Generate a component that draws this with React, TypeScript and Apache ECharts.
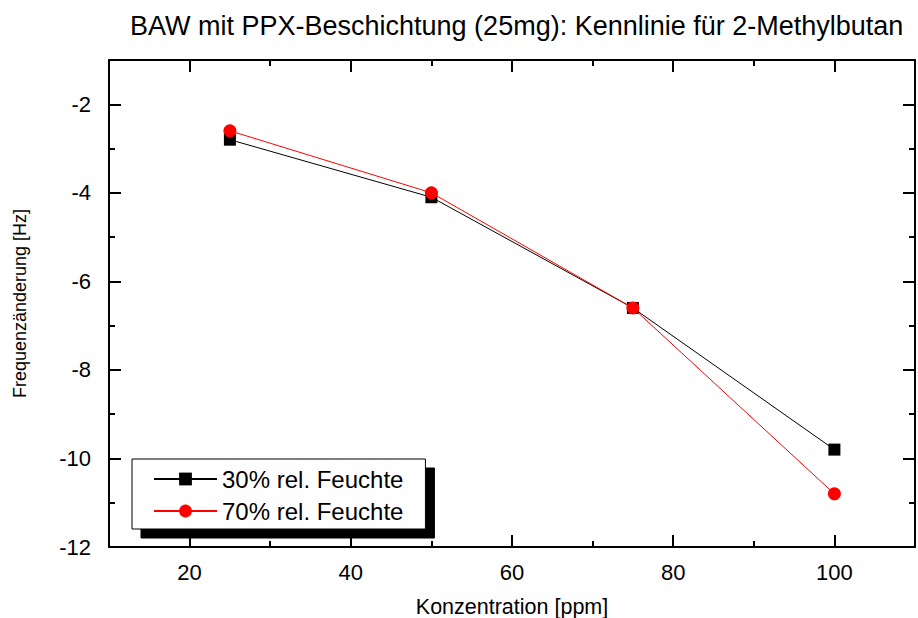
import React, { useEffect, useRef } from "react";
import * as echarts from "echarts";

const titleText = "BAW mit PPX-Beschichtung (25mg): Kennlinie für 2-Methylbutan";
const xName = "Konzentration [ppm]";
const yName = "Frequenzänderung [Hz]";
const concentrations = [25, 50, 75, 100];
const seriesNames = ["30% rel. Feuchte", "70% rel. Feuchte"];
const values30 = [-2.8, -4.1, -6.6, -9.8];
const values70 = [-2.6, -4.0, -6.6, -10.8];
const xMajor = [20, 40, 60, 80, 100];
const xMinor = [30, 50, 70, 90];
const yMajor = [-12, -10, -8, -6, -4, -2];
const yMinor = [-11, -9, -7, -5, -3];

const FONT = "'Liberation Sans', Arial, sans-serif";

export default function App() {
  const ref = useRef<HTMLDivElement>(null);
  useEffect(() => {
    document.body.style.margin = "0";
    if (!ref.current) return;
    const chart = echarts.init(ref.current, undefined, { renderer: "svg" });
    const lineC = { color: "#000", width: 2 };
    const mkX = (pos: string, ticks: number[], len: number, main: boolean) => ({
      type: "value",
      position: pos,
      min: 10,
      max: 110,
      axisLine: { show: main, lineStyle: lineC },
      axisTick: { show: true, inside: true, length: len, customValues: ticks, lineStyle: lineC },
      axisLabel: main && pos === "bottom"
        ? { show: true, customValues: xMajor, fontSize: 22, color: "#000", fontFamily: FONT, margin: 14 }
        : { show: false },
      splitLine: { show: false },
      name: main && pos === "bottom" ? xName : "",
      nameLocation: "middle",
      nameGap: 49,
      nameTextStyle: { fontSize: 21.5, color: "#000", fontFamily: FONT },
    });
    const mkY = (pos: string, ticks: number[], len: number, main: boolean) => ({
      type: "value",
      position: pos,
      min: -12,
      max: -1,
      axisLine: { show: main, lineStyle: lineC },
      axisTick: { show: true, inside: true, length: len, customValues: ticks, lineStyle: lineC },
      axisLabel: main && pos === "left"
        ? { show: true, customValues: yMajor, fontSize: 22, color: "#000", fontFamily: FONT, margin: 18 }
        : { show: false },
      splitLine: { show: false },
      name: main && pos === "left" ? yName : "",
      nameLocation: "middle",
      nameRotate: 90,
      nameGap: 80,
      nameTextStyle: { fontSize: 18, color: "#000", fontFamily: FONT },
    });
    chart.setOption({
      animation: false,
      backgroundColor: "#fff",
      title: {
        text: titleText,
        left: 125,
        top: 7,
        textStyle: { fontSize: 27, fontWeight: "normal", color: "#000", fontFamily: FONT },
      },
      grid: { left: 109, right: 3, top: 60, bottom: 71, containLabel: false, outerBoundsMode: "none" },
      legend: {
        orient: "vertical",
        left: 132,
        top: 459,
        padding: [8, 22, 6, 21],
        itemGap: 8,
        itemWidth: 63,
        itemHeight: 16,
        backgroundColor: "#fff",
        borderColor: "#000",
        borderWidth: 1,
        shadowColor: "#000",
        shadowBlur: 0,
        shadowOffsetX: 9,
        shadowOffsetY: 9,
        textStyle: { fontSize: 24, color: "#000", fontFamily: FONT, lineHeight: 24 },
        data: seriesNames,
      },
      xAxis: [
        mkX("bottom", xMajor, 12, true),
        mkX("bottom", xMinor, 6, false),
        mkX("top", xMajor, 12, true),
        mkX("top", xMinor, 6, false),
      ],
      yAxis: [
        mkY("left", yMajor, 12, true),
        mkY("left", yMinor, 6, false),
        mkY("right", yMajor, 12, true),
        mkY("right", yMinor, 6, false),
      ],
      series: [
        {
          name: seriesNames[0],
          type: "line",
          xAxisIndex: 0,
          yAxisIndex: 0,
          data: concentrations.map((c, i) => [c, values30[i]]),
          symbol: "rect",
          symbolSize: 12,
          lineStyle: { color: "#000", width: 1 },
          itemStyle: { color: "#000" },
          z: 3,
        },
        {
          name: seriesNames[1],
          type: "line",
          xAxisIndex: 0,
          yAxisIndex: 0,
          data: concentrations.map((c, i) => [c, values70[i]]),
          symbol: "circle",
          symbolSize: 13,
          lineStyle: { color: "#ff0000", width: 1 },
          itemStyle: { color: "#ff0000" },
          z: 4,
        },
      ],
    });
    return () => chart.dispose();
  }, []);
  return <div ref={ref} style={{ width: 918, height: 618 }} />;
}
